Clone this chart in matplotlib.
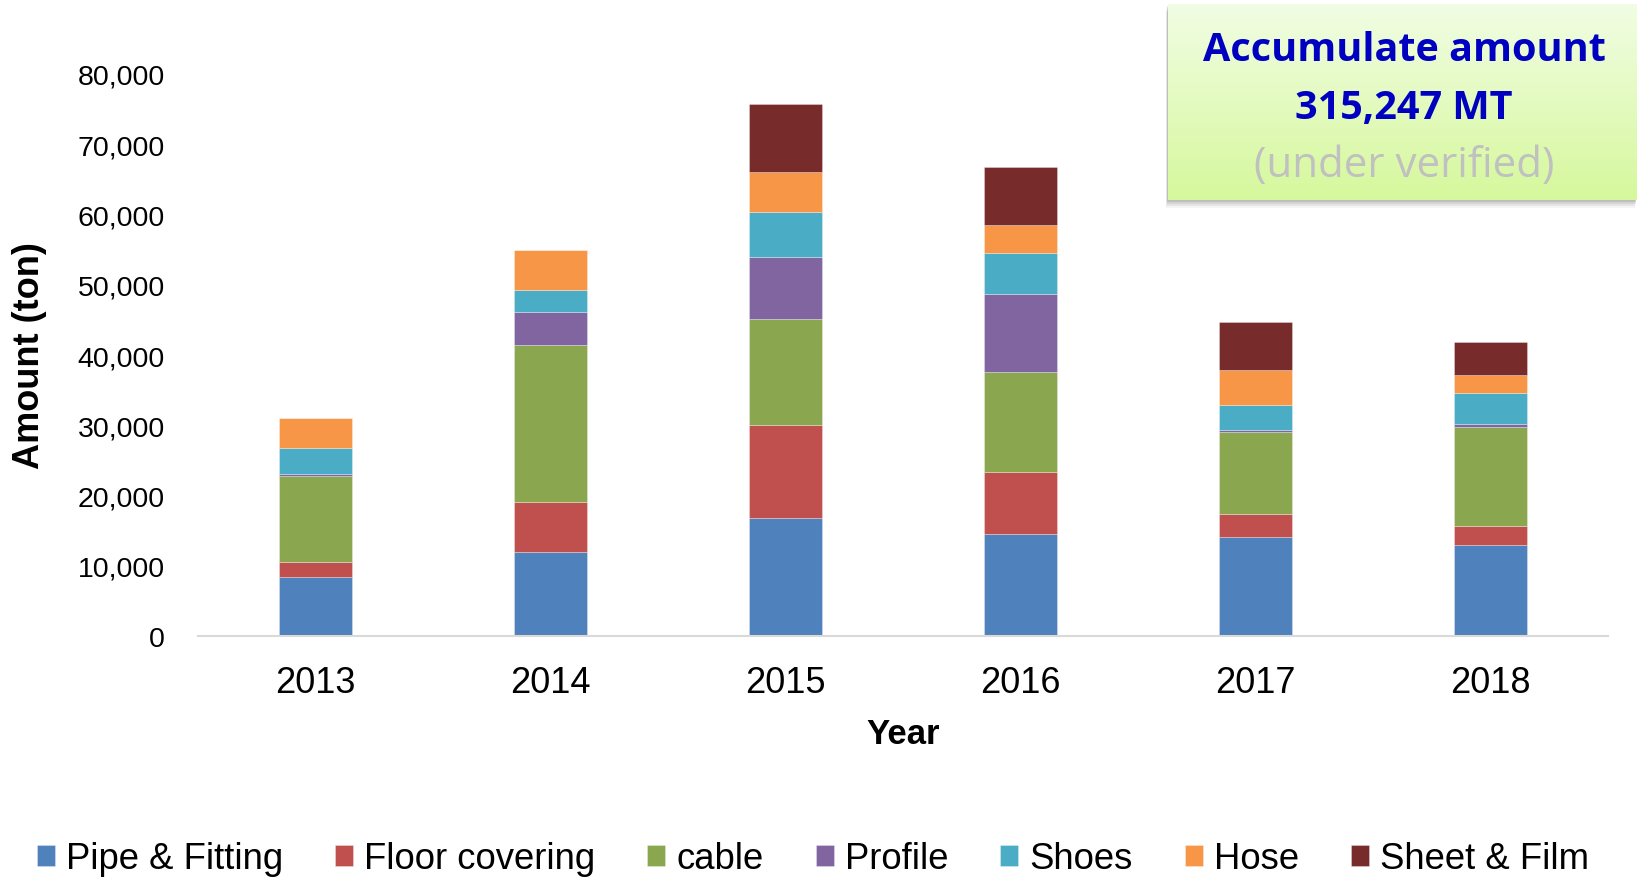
import matplotlib
matplotlib.use("Agg")
import matplotlib.pyplot as plt
import numpy as np
from matplotlib.patches import Rectangle

years = ["2013", "2014", "2015", "2016", "2017", "2018"]
pipe_fitting = [8400, 12000, 16750, 14500, 14050, 13000]
floor_covering = [2200, 7100, 13350, 8900, 3350, 2600]
cable = [12200, 22300, 15000, 14200, 11600, 14100]
profile = [200, 4700, 8800, 11100, 300, 450]
shoes = [3800, 3200, 6400, 5800, 3550, 4450]
hose = [4300, 5600, 5800, 4000, 5050, 2600]
sheet_film = [0, 0, 9700, 8200, 6850, 4650]

series_names = ["Pipe & Fitting", "Floor covering", "cable", "Profile", "Shoes", "Hose", "Sheet & Film"]
series_vals = [pipe_fitting, floor_covering, cable, profile, shoes, hose, sheet_film]
colors = ["#4F81BD", "#C0504D", "#8AA64E", "#8165A0", "#4AACC5", "#F79646", "#772B2B"]

W, H = 1637, 878
fig = plt.figure(figsize=(W / 100, H / 100), dpi=100)
plt.rcParams['font.family'] = ['Liberation Sans', 'DejaVu Sans']

ax = fig.add_axes([198 / W, 1 - 637 / H, (1608 - 198) / W, (637 - 75) / H])
x = np.arange(len(years))
bottom = np.zeros(len(years))
handles = []
for name, vals, c in zip(series_names, series_vals, colors):
    v = np.array(vals, dtype=float)
    b = ax.bar(x, v, bottom=bottom, width=0.311, color=c, label=name,
               edgecolor=(1, 1, 1, 0.35), linewidth=0.6)
    handles.append(b)
    bottom += v

ax.set_xlim(-0.5, len(years) - 0.5)
ax.set_ylim(0, 80000)
ax.set_yticks(np.arange(0, 80001, 10000))
ax.set_yticklabels([f"{int(t):,}" for t in np.arange(0, 80001, 10000)], fontsize=20.5)
ax.set_xticks(x)
ax.set_xticklabels(years, fontsize=26)
ax.tick_params(axis='y', length=0, pad=24)
ax.tick_params(axis='x', length=0, pad=21)
for s in ["top", "right", "left"]:
    ax.spines[s].set_visible(False)
ax.spines["bottom"].set_color("#D9D9D9")
ax.spines["bottom"].set_linewidth(1.5)
ax.set_ylabel("Amount (ton)", fontsize=26, fontweight="bold", labelpad=22)
ax.set_xlabel("Year", fontsize=25, fontweight="bold", labelpad=12)

leg = fig.legend(handles=handles, labels=series_names, loc="center",
                 bbox_to_anchor=(0.4965, 0.021), ncol=7, frameon=False,
                 fontsize=26.3, handlelength=0.5, handleheight=0.5,
                 handletextpad=0.3, columnspacing=1.42)

# Text box with gradient and shadow
bx0, by0, bx1, by1 = 1168, 5, 1637, 201
for i, a in enumerate([0.10, 0.08, 0.06, 0.04]):
    off = 2 + i * 2
    fig.patches.append(Rectangle(((bx0 - off * 0.3) / W, 1 - (by1 + off) / H),
                                 (bx1 - bx0) / W, (by1 - by0) / H,
                                 transform=fig.transFigure, color="black",
                                 alpha=a, zorder=1, lw=0))
bax = fig.add_axes([bx0 / W, 1 - by1 / H, (bx1 - bx0) / W, (by1 - by0) / H], zorder=2)
top_c = np.array([0xF1, 0xFD, 0xE4]) / 255
bot_c = np.array([0xD6, 0xF8, 0x9C]) / 255
t = np.linspace(0, 1, 256)[:, None]
grad = top_c[None, :] * (1 - t) + bot_c[None, :] * t
grad = np.repeat(grad[:, None, :], 2, axis=1)
bax.imshow(grad, aspect="auto", extent=[0, 1, 0, 1])
bax.set_axis_off()

cx = 1404 / W
fig.text(cx, 1 - 61 / H, "Accumulate amount", ha="center", va="baseline",
         fontsize=28.5, fontweight="bold", color="#0000C0",
         family=["Open Sans", "DejaVu Sans"], zorder=3)
fig.text(cx, 1 - 119 / H, "315,247 MT", ha="center", va="baseline",
         fontsize=28.5, fontweight="bold", color="#0000C0",
         family=["Open Sans", "DejaVu Sans"], zorder=3)
fig.text(cx, 1 - 177 / H, "(under verified)", ha="center", va="baseline",
         fontsize=30.3, color="#C0C0C0", family=["Open Sans", "DejaVu Sans"], zorder=3)

fig.savefig("out.png", dpi=100)
